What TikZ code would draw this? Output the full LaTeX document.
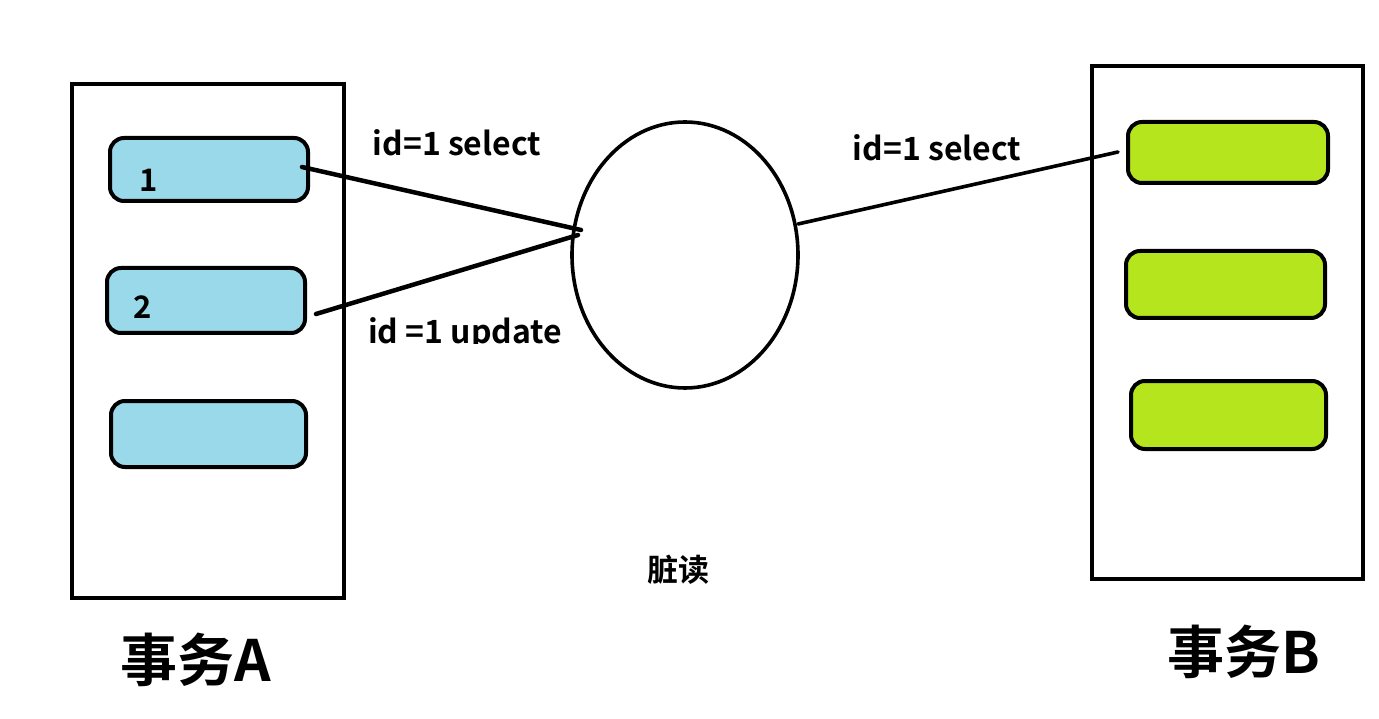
\documentclass[tikz,border=0pt]{standalone}
\usepackage{fontspec}
\setmainfont{Noto Sans CJK SC}[BoldFont={Noto Sans CJK SC Bold}]
\usetikzlibrary{shapes.geometric}
\definecolor{boxblue}{HTML}{99D9EA}
\definecolor{boxgreen}{HTML}{B5E61D}
\tikzset{
  frame/.style={draw=black, line width=4pt},
  bluebox/.style={draw=black, line width=4pt, fill=boxblue, rounded corners=14pt},
  greenbox/.style={draw=black, line width=4pt, fill=boxgreen, rounded corners=14pt},
  conn/.style={draw=black, line width=4.5pt, line cap=round},
  lbl/.style={font=\bfseries\fontsize{32}{35}\selectfont, inner sep=0pt},
  num/.style={font=\bfseries\fontsize{31}{34}\selectfont, inner sep=0pt},
  title/.style={font=\bfseries\fontsize{57}{60}\selectfont, inner sep=0pt},
}
\begin{document}
\begin{tikzpicture}[x=1pt,y=-1pt]
\useasboundingbox (0,0) rectangle (1379,719);
\fill[white] (0,0) rectangle (1379,719);
% left frame
\draw[frame] (72,84) rectangle (344,598);
\draw[bluebox] (110,138) rectangle (308,201);
\draw[bluebox] (107,268) rectangle (305,333);
\draw[bluebox] (111,401) rectangle (306,467);
\node[num] (n1) at (149,180) {1};
\node[num] (n2) at (143,307) {2};
% right frame
\draw[frame] (1092,66) rectangle (1363,579);
\draw[greenbox] (1128,122) rectangle (1328,183);
\draw[greenbox] (1126,251) rectangle (1325,318);
\draw[greenbox] (1131,381) rectangle (1326,449);
% ellipse
\node[draw=black, line width=3.6pt, ellipse, minimum width=226pt, minimum height=266pt, inner sep=0pt] (db) at (685,255) {};
% connectors
\coordinate (a1) at (302,167);
\coordinate (a2) at (316,314);
\coordinate (e1) at (581,230);
\coordinate (e2) at (578,235);
\coordinate (e3) at (798,224);
\coordinate (b1) at (1118,152);
\draw[conn] (a1) -- (e1);
\draw[conn] (a2) -- (e2);
\draw[conn, line width=3.6pt] (e3) -- (b1);
% labels
\node[lbl] (t1) at (457,143) {id=1 select};
\begin{scope}
\clip (300,300) rectangle (700,344);
\node[lbl] (t2) at (465,334) {id =1 update};
\end{scope}
\node[lbl] (t3) at (937,148) {id=1 select};
\node[font=\bfseries\fontsize{31}{34}\selectfont, inner sep=0pt] (t4) at (678,570) {脏读};
\node[title] (ta) at (196,660) {事务A};
\node[title] (tb) at (1244,652) {事务B};
\end{tikzpicture}
\end{document}
